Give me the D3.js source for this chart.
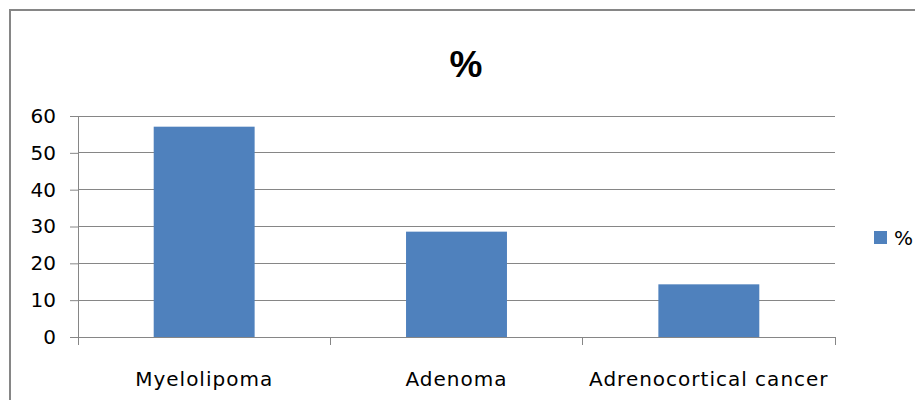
<!DOCTYPE html>
<html><head><meta charset="utf-8">
<script src="https://cdn.jsdelivr.net/npm/d3@7"></script>
<style>body{margin:0;background:#fff}svg{display:block;font-family:"DejaVu Sans",sans-serif}</style>
</head><body><svg id="c" width="915" height="400"></svg>
<script>
const categories = ["Myelolipoma", "Adenoma", "Adrenocortical cancer"];
const values = [57.1, 28.6, 14.3];
const yTicks = [0, 10, 20, 30, 40, 50, 60];
const seriesName = "%";
const title = "%";

(function () {
const svg = d3.select("#c");
const mLeft = 78, mRight = 835, mTop = 116, mBottom = 337;
const grid = "#868686", barColor = "#4f81bd";
const font = "'DejaVu Sans',sans-serif";

svg.append("rect").attr("x", 10).attr("y", 10).attr("width", 915).attr("height", 400)
  .attr("fill", "none").attr("stroke", grid).attr("stroke-width", 2);

const x = d3.scaleBand().domain(categories).range([mLeft, mRight]).paddingInner(0.6).paddingOuter(0.3);
const xb = d3.scaleBand().domain(categories).range([mLeft, mRight]);
const y = d3.scaleLinear().domain([0, 60]).range([mBottom, mTop]);

svg.append("g").selectAll("line").data(yTicks.filter(d => d > 0)).join("line")
  .attr("x1", mLeft).attr("x2", mRight).attr("y1", d => y(d)).attr("y2", d => y(d))
  .attr("stroke", grid).attr("stroke-width", 1).attr("shape-rendering", "crispEdges");

svg.append("g").selectAll("rect").data(values).join("rect")
  .attr("x", (d, i) => x(categories[i])).attr("width", x.bandwidth())
  .attr("y", d => y(d)).attr("height", d => y(0) - y(d)).attr("fill", barColor);

const ya = svg.append("g").attr("transform", `translate(${mLeft},0)`)
  .call(d3.axisLeft(y).tickValues(yTicks).tickSize(8).tickPadding(14));
ya.select(".domain").attr("stroke", grid);
ya.selectAll(".tick line").attr("stroke", grid);
ya.selectAll("text").attr("font-size", 20).attr("fill", "#000").attr("font-family", font);

svg.append("line").attr("x1", mLeft).attr("x2", mRight).attr("y1", mBottom).attr("y2", mBottom)
  .attr("stroke", grid).attr("shape-rendering", "crispEdges");
const bounds = categories.map(c => xb(c)).concat([mRight]);
svg.append("g").selectAll("line").data(bounds).join("line")
  .attr("x1", d => d).attr("x2", d => d).attr("y1", mBottom).attr("y2", mBottom + 8)
  .attr("stroke", grid).attr("shape-rendering", "crispEdges");
svg.append("g").selectAll("text").data(categories).join("text")
  .attr("x", d => xb(d) + xb.bandwidth() / 2).attr("y", 386)
  .attr("text-anchor", "middle").attr("font-size", 20).attr("letter-spacing", 1)
  .attr("fill", "#000").text(d => d);

svg.append("text").attr("x", 466).attr("y", 77).attr("text-anchor", "middle")
  .attr("font-family", "'Liberation Sans',sans-serif")
  .attr("font-size", 37).attr("font-weight", "bold").attr("fill", "#000").text(title);

svg.append("rect").attr("x", 874).attr("y", 231).attr("width", 13).attr("height", 13).attr("fill", barColor);
svg.append("text").attr("x", 894).attr("y", 245).attr("font-size", 20).attr("fill", "#000").text(seriesName);
})();
</script></body></html>
